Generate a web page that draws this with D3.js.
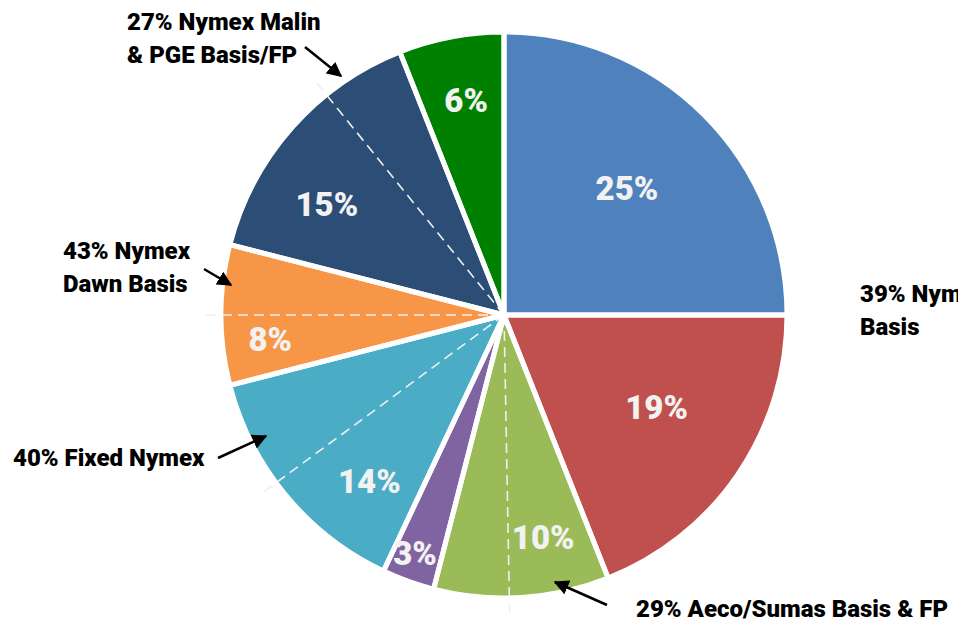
<!DOCTYPE html>
<html>
<head>
<meta charset="utf-8">
<script src="https://cdn.jsdelivr.net/npm/d3@7"></script>
<style>
  body { margin: 0; background: #fff; }
  text { font-family: "Liberation Sans Narrow", "Arial Narrow", "Roboto", sans-serif; font-weight: 900; }
</style>
</head>
<body>
<script>
//Width and height
var w = 958;
var h = 621;

//Slice shares, clockwise from 12 o'clock
var slices = ["A", "B", "C", "D", "E", "F", "G", "H"];
var shares = [25, 19, 10, 3, 14, 8, 15, 6];
var colors = ["#4F81BD", "#C0504D", "#9BBB59", "#8064A2", "#4BACC6", "#F79646", "#2C4D75", "#008000"];

//Where the dashed split line sits, in percent around the pie (null = none)
var dashAt = [null, null, 49.7, null, 64.9, 75, 89.2, null];

//Callout texts
var noteText = [
    ["27% Nymex Malin", "& PGE Basis/FP"],
    ["43% Nymex", "Dawn Basis"],
    ["40% Fixed Nymex"],
    ["29% Aeco/Sumas Basis & FP"],
    ["39% Nymex", "Basis"]
];

//Layout
var cx = 504, cy = 315, r = 283;
var labelPolar = [[177, 44], [178, 121], [226, 170], [254, 200.5], [214, 219], [235, 264], [209, 302], [218, 350]];
var noteLayout = [
    { x: 127, y: 30, arrow: [305, 47, 341, 76] },
    { x: 63, y: 259, arrow: [204, 269, 231, 285] },
    { x: 13, y: 466, arrow: [218, 458, 266, 436] },
    { x: 636, y: 617, arrow: [607, 605, 555, 582] },
    { x: 860, y: 302, arrow: null }
];

var svg = d3.select("body")
    .append("svg")
    .attr("width", w)
    .attr("height", h);

svg.append("defs").append("marker")
    .attr("id", "head")
    .attr("viewBox", "0 0 10 10")
    .attr("refX", 9)
    .attr("refY", 5)
    .attr("markerWidth", 6)
    .attr("markerHeight", 6)
    .attr("orient", "auto")
    .append("path")
    .attr("d", "M0,0L10,5L0,10Z")
    .attr("fill", "#000");

var total = d3.sum(shares);
var pie = d3.pie().sort(null);
var arcs = pie(shares);
var arc = d3.arc().innerRadius(0).outerRadius(r);

//Angle scale: percent around the pie -> radians
var angle = d3.scaleLinear().domain([0, total]).range([0, 2 * Math.PI]);

var g = svg.append("g")
    .attr("transform", "translate(" + cx + "," + cy + ")");

g.selectAll("path.slice")
    .data(arcs)
    .enter()
    .append("path")
    .attr("class", "slice")
    .attr("d", arc)
    .attr("fill", (d, i) => colors[i]);

//Dashed split lines
g.selectAll("line.split")
    .data(dashAt.filter(d => d != null))
    .enter()
    .append("line")
    .attr("x1", 0)
    .attr("y1", 0)
    .attr("x2", d => Math.sin(angle(d)) * (r + 20))
    .attr("y2", d => -Math.cos(angle(d)) * (r + 20))
    .attr("stroke", "#efefef")
    .attr("stroke-width", 1.6)
    .attr("stroke-dasharray", "10,6");

//White separators drawn on top
g.selectAll("path.sep")
    .data(arcs)
    .enter()
    .append("path")
    .attr("d", arc)
    .attr("fill", "none")
    .attr("stroke", "#fff")
    .attr("stroke-width", 5)
    .attr("stroke-linejoin", "round");

//Percent labels
g.selectAll("text.pct")
    .data(arcs)
    .enter()
    .append("text")
    .attr("x", (d, i) => labelPolar[i][0] * Math.sin(labelPolar[i][1] * Math.PI / 180))
    .attr("y", (d, i) => -labelPolar[i][0] * Math.cos(labelPolar[i][1] * Math.PI / 180))
    .attr("text-anchor", "middle")
    .attr("dy", "0.36em")
    .attr("fill", "#F2F2F2")
    .attr("font-size", 33)
    .text(d => d.data + "%");

//Callouts
noteText.forEach(function(lines, i) {
    var L = noteLayout[i];
    var t = svg.append("text")
        .attr("x", L.x)
        .attr("y", L.y)
        .attr("font-size", 24)
        .attr("fill", "#000");
    lines.forEach(function(s, j) {
        t.append("tspan")
            .attr("x", L.x)
            .attr("dy", j == 0 ? 0 : 33)
            .text(s);
    });
    if (L.arrow) {
        svg.append("line")
            .attr("x1", L.arrow[0])
            .attr("y1", L.arrow[1])
            .attr("x2", L.arrow[2])
            .attr("y2", L.arrow[3])
            .attr("stroke", "#000")
            .attr("stroke-width", 2.5)
            .attr("marker-end", "url(#head)");
    }
});
</script>
</body>
</html>
